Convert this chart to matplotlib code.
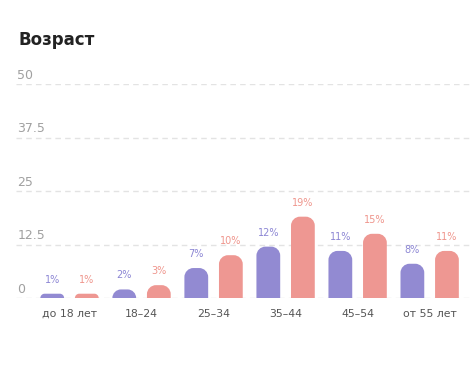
import matplotlib
matplotlib.use("Agg")
import matplotlib.pyplot as plt
import numpy as np
from matplotlib.path import Path
from matplotlib.patches import PathPatch
from matplotlib.transforms import IdentityTransform

categories = ["до 18 лет", "18–24", "25–34", "35–44", "45–54", "от 55 лет"]
purple_vals = [1, 2, 7, 12, 11, 8]
pink_vals = [1, 3, 10, 19, 15, 11]
y_ticks = [0, 12.5, 25, 37.5, 50]
y_tick_labels = ["0", "12.5", "25", "37.5", "50"]

PURPLE = "#928ad2"
PINK = "#ee9792"
PURPLE_TXT = "#8c86d4"
PINK_TXT = "#ef958c"

DPI = 100
fig = plt.figure(figsize=(4.75, 3.79), dpi=DPI)
fig.patch.set_facecolor("white")
ax = fig.add_axes([16 / 475, 1 - 298 / 379, (470 - 16) / 475, (298 - 84) / 379])
ax.set_facecolor("none")
for s in ax.spines.values():
    s.set_visible(False)
ax.set_xlim(-0.743, 5.56)
ax.set_ylim(0, 50)
ax.set_xticks([])
ax.set_yticks([])

for t in y_ticks:
    ax.axhline(t, color="#e3e3e3", lw=1, ls=(0, (4, 3)), zorder=0)
for t, lab in zip(y_ticks, y_tick_labels):
    ax.annotate(lab, (0, t), xycoords=("axes fraction", "data"),
                xytext=(1, 1.5), textcoords="offset points",
                ha="left", va="bottom", fontsize=9, color="#a0a0a0")

x = np.arange(len(categories))
w = 0.33
off = 0.24
bars_p = ax.bar(x - off, purple_vals, w, color="none")
bars_k = ax.bar(x + off, pink_vals, w, color="none")

fig.canvas.draw()


def rounded_bar(rect, color, radius=9):
    bb = rect.get_window_extent()
    x0, y0, x1, y1 = bb.x0, bb.y0, bb.x1, bb.y1
    r = min(radius, (x1 - x0) / 2, (y1 - y0))
    k = 0.5523
    verts = [
        (x0, y0), (x0, y1 - r),
        (x0, y1 - r + k * r), (x0 + r - k * r, y1), (x0 + r, y1),
        (x1 - r, y1),
        (x1 - r + k * r, y1), (x1, y1 - r + k * r), (x1, y1 - r),
        (x1, y0), (x0, y0),
    ]
    codes = [Path.MOVETO, Path.LINETO,
             Path.CURVE4, Path.CURVE4, Path.CURVE4,
             Path.LINETO,
             Path.CURVE4, Path.CURVE4, Path.CURVE4,
             Path.LINETO, Path.CLOSEPOLY]
    p = PathPatch(Path(verts, codes), facecolor=color, edgecolor="none",
                  transform=IdentityTransform(), zorder=2)
    fig.add_artist(p)


for rect, v in zip(bars_p, purple_vals):
    rounded_bar(rect, PURPLE)
    ax.annotate(f"{v}%", (rect.get_x() + rect.get_width() / 2, v),
                xytext=(0, 6.5), textcoords="offset points",
                ha="center", va="bottom", fontsize=7, color=PURPLE_TXT)
for rect, v in zip(bars_k, pink_vals):
    rounded_bar(rect, PINK)
    ax.annotate(f"{v}%", (rect.get_x() + rect.get_width() / 2, v),
                xytext=(0, 6.5), textcoords="offset points",
                ha="center", va="bottom", fontsize=7, color=PINK_TXT)

for xi, lab in zip(x, categories):
    ax.annotate(lab, (xi, 0), xytext=(0, -8), textcoords="offset points",
                ha="center", va="top", fontsize=7.8, color="#555555")

fig.text(18 / 475, 1 - 40 / 379, "Возраст", fontsize=12, fontweight="bold",
         color="#222222", ha="left", va="center")

fig.savefig("out.png", dpi=DPI, facecolor="white")
